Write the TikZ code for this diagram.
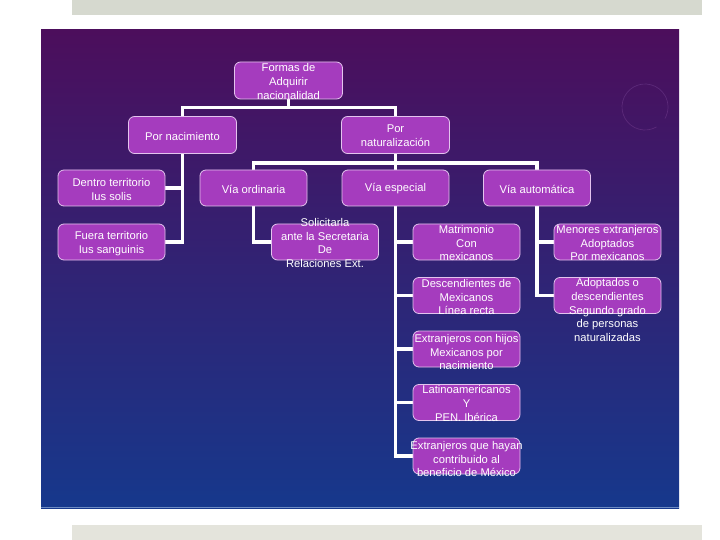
\documentclass[tikz,border=0pt]{standalone}
\usepackage{fontspec}
\setmainfont{Liberation Sans}
\usetikzlibrary{backgrounds}
\definecolor{boxfill}{RGB}{165,60,190}
\definecolor{boxline}{RGB}{228,195,238}
\definecolor{bgtop}{RGB}{76,14,92}
\definecolor{bgmid}{RGB}{62,28,115}
\definecolor{bgbot}{RGB}{22,56,140}
\definecolor{graytop}{RGB}{214,217,207}
\definecolor{graybot}{RGB}{228,228,220}
\definecolor{circ}{RGB}{92,42,122}
\definecolor{edgeline}{RGB}{110,140,195}
\begin{document}
\begin{tikzpicture}[x=1pt,y=-1pt,
  box/.style={draw=boxline, line width=0.8pt, fill=boxfill, rounded corners=6pt,
    minimum width=107pt, minimum height=36pt, inner sep=0pt},
  txt/.style={text=white, align=center, inner sep=0pt,
    font=\fontsize{11.2}{13.8}\selectfont},
  conn/.style={draw=white, line width=3.5pt}]
\useasboundingbox (0,0) rectangle (720,540);

% boxes
\node[box, minimum width=108pt, minimum height=37pt] (root) at (288.5,80.5) {};
\node[box, minimum width=108pt, minimum height=37pt] (nac) at (182.5,135) {};
\node[box, minimum width=108pt, minimum height=37pt] (nat) at (395.5,135) {};
\node[box] (dentro) at (111.5,188) {};
\node[box] (fuera) at (111.5,242) {};
\node[box] (ord) at (253.5,188) {};
\node[box] (esp) at (395.5,188) {};
\node[box] (aut) at (537,188) {};
\node[box] (sol) at (325,242) {};
\node[box] (mat) at (466.5,242) {};
\node[box] (desc) at (466.5,295.5) {};
\node[box] (ext) at (466.5,349) {};
\node[box] (lat) at (466.5,402.5) {};
\node[box] (hay) at (466.5,456) {};
\node[box] (men) at (607.5,242) {};
\node[box] (adop) at (607.5,295.5) {};

% texts
\node[txt] (troot) at ([yshift=-1pt]root.center) {Formas de\\Adquirir\\nacionalidad};
\node[txt] (tnac) at ([yshift=-1.5pt]nac.center) {Por nacimiento};
\node[txt] (tnat) at ([yshift=-1pt]nat.center) {Por\\naturalización};
\node[txt] (tdentro) at ([yshift=-1.5pt]dentro.center) {Dentro territorio\\Ius solis};
\node[txt] (tfuera) at ([yshift=-1.5pt]fuera.center) {Fuera territorio\\Ius sanguinis};
\node[txt] (tord) at ([yshift=-1pt]ord.center) {Vía ordinaria};
\node[txt] (tesp) at ([yshift=-1pt]esp.center) {Vía especial};
\node[txt] (taut) at ([yshift=-1pt]aut.center) {Vía automática};
\node[txt] (tsol) at ([yshift=-1pt]sol.center) {Solicitarla\\ante la Secretaria\\De\\Relaciones Ext.};
\node[txt] (tmat) at ([yshift=-1pt]mat.center) {Matrimonio\\Con\\mexicanos};
\node[txt] (tdesc) at ([yshift=-1.5pt]desc.center) {Descendientes de\\Mexicanos\\Línea recta};
\node[txt] (text) at ([yshift=-3pt]ext.center) {Extranjeros con hijos\\Mexicanos por\\nacimiento};
\node[txt] (tlat) at ([yshift=-1pt]lat.center) {Latinoamericanos\\Y\\PEN. Ibérica};
\node[txt] (thay) at ([yshift=-3pt]hay.center) {Extranjeros que hayan\\contribuido al\\beneficio de México};
\node[txt] (tmen) at ([yshift=-1pt]men.center) {Menores extranjeros\\Adoptados\\Por mexicanos};
\node[txt] (tadop) at ([yshift=-14.5pt]adop.center) {Adoptados o\\descendientes\\Segundo grado\\de personas\\naturalizadas};

\begin{pgfonlayer}{background}
  \fill[white] (0,0) rectangle (720,540);
  \fill[graytop] (72,0) rectangle (702,15);
  \fill[graybot] (72,525) rectangle (702,540);
  \shade[top color=bgtop, middle color=bgmid, bottom color=bgbot] (41,30) rectangle (679,508);
  \draw[edgeline, line width=1pt] (41,507.5) -- (679,507.5);
  \draw[circ, line width=0.7pt] (645,107) ++(60:23) arc[start angle=60, end angle=390, radius=23];
  % connectors
  \draw[conn] (root.south) -- ++(0,8) -| (nac.north);
  \draw[conn] (root.south) -- ++(0,8) -| (nat.north);
  \draw[conn] (nac.south) |- (dentro.east);
  \draw[conn] (nac.south) |- (fuera.east);
  \draw[conn] (nat.south) -- ++(0,9) -| (ord.north);
  \draw[conn] (nat.south) -- ++(0,9) -| (esp.north);
  \draw[conn] (nat.south) -- ++(0,9) -| (aut.north);
  \draw[conn] (ord.south) |- (sol.west);
  \draw[conn] (esp.south) |- (mat.west);
  \draw[conn] (esp.south) |- (desc.west);
  \draw[conn] (esp.south) |- (ext.west);
  \draw[conn] (esp.south) |- (lat.west);
  \draw[conn] (esp.south) |- (hay.west);
  \draw[conn] (aut.south) |- (men.west);
  \draw[conn] (aut.south) |- (adop.west);
\end{pgfonlayer}
\end{tikzpicture}
\end{document}
